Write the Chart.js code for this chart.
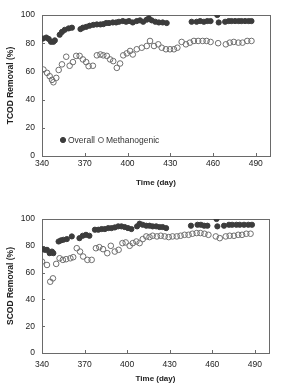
<!DOCTYPE html>
<html>
<head>
<meta charset="utf-8">
<script src="https://cdn.jsdelivr.net/npm/chart.js@4/dist/chart.umd.min.js"></script>
<style>
html, body { margin: 0; padding: 0; background: #fff; overflow: hidden; width: 287px; height: 383px; }
canvas { position: absolute; left: 0; }
#tcod { top: 0; }
#scod { top: 190px; }
</style>
</head>
<body>
<canvas id="tcod" width="287" height="190" style="width:287px;height:190px"></canvas>
<canvas id="scod" width="287" height="200" style="width:287px;height:200px"></canvas>
<script>
// axis ticks
var xTicks = [340, 370, 400, 430, 460, 490];
var yTicks = [0, 20, 40, 60, 80, 100];

// TCOD removal, overall
var tcodOverallDays = [340.7, 343, 344.7, 346.3, 348, 349, 352.4, 354, 356, 358.7, 361, 367, 368.7, 371, 373.4, 376, 378.5, 381, 383, 385, 387, 389.7, 392, 394, 396.7, 399, 401, 403.7, 406.5, 408.8, 411, 413.5, 415, 417, 419.5, 422, 424.7, 427.5, 445, 448.5, 451, 453.6, 456, 458.3, 463, 464, 468.5, 471, 473, 475.5, 478, 480, 482.5, 485, 487];
var tcodOverallVals = [83.3, 84, 83, 81, 81, 82, 86, 88, 89.5, 90.5, 91, 90, 91, 91.6, 92.4, 93, 93.3, 93.3, 93.5, 94.3, 94.3, 94.7, 94.7, 95.2, 95.7, 95.2, 95.7, 94.7, 95.7, 96.2, 95.2, 96.7, 97.6, 96.2, 95.2, 94.7, 94.7, 94.3, 95.2, 95.2, 95.7, 95.2, 95.7, 95.7, 100, 94.7, 95.2, 95.7, 95.7, 95.7, 95.7, 95.7, 95.7, 95.7, 95.7];

// TCOD removal, methanogenic
var tcodMethDays = [341, 343.5, 345.4, 347, 348, 350, 351.7, 354, 357, 359.4, 361.7, 364, 366.4, 368.7, 371, 372.7, 375.7, 378.5, 381, 383, 385.5, 387.8, 390, 392.5, 394.8, 397, 399.5, 401.8, 403.7, 406.5, 410, 413.5, 415.8, 418.6, 421.6, 424, 427, 429.8, 432.6, 435, 438, 441, 443.8, 446.6, 449.6, 452.7, 455.5, 458.3, 463.6, 469, 471.8, 474.6, 477.8, 480.7, 484, 487];
var tcodMethVals = [61.3, 59, 56.6, 54, 52.3, 55.4, 61, 65, 70.4, 64, 66.6, 71, 71, 68.5, 66.6, 63.7, 64, 71.4, 72, 71.4, 71, 68.5, 67.3, 62.5, 65.6, 71.4, 72.8, 74.5, 72, 75.7, 76.8, 78, 81.6, 78, 79.2, 76.8, 75.7, 75.7, 75.7, 76.8, 80.9, 79.2, 80.4, 81.6, 81.6, 81.6, 81.6, 80.9, 80, 79.2, 80.4, 80.9, 80.4, 80.4, 81.6, 81.6];

// SCOD removal, overall
var scodOverallDays = [340, 342, 343.5, 345.4, 347, 348, 351.7, 353.3, 355, 357.5, 361, 366.4, 368.7, 371, 373.4, 377.3, 379.7, 382, 384.3, 386.7, 389, 391.3, 393.7, 396, 398.3, 400.6, 403, 407, 408.8, 411, 413.5, 415.8, 418, 420.5, 422.8, 425, 427.5, 445, 449.6, 452, 454.3, 456.6, 463, 463.6, 468.3, 471.8, 474, 477, 479.4, 482.4, 485.4, 488];
var scodOverallVals = [77.5, 77, 77, 74.5, 75.7, 74.5, 83.2, 84, 84.5, 85, 87, 85.7, 87.5, 88.2, 87.5, 92, 92, 92.5, 92.5, 93.2, 93.2, 93.7, 94.5, 94.5, 94, 93.2, 92.5, 94.5, 96.5, 95.7, 95, 95, 94.5, 94.5, 94, 94, 93.2, 95, 95.7, 95.7, 95, 95, 100, 94.5, 95, 95.7, 95.7, 95.7, 95.7, 95.7, 95.7, 95.7];

// SCOD removal, methanogenic
var scodMethDays = [340, 343.5, 345.8, 347.7, 350, 352.4, 354.7, 357, 360, 362, 364.5, 366.8, 369, 372, 375, 378, 380.4, 383, 386, 388.5, 391.3, 394, 396.7, 399, 401.8, 404, 406.5, 408.8, 411, 413.5, 415.8, 418, 421, 423.7, 426.5, 429.3, 432, 435, 437.7, 440.5, 443.3, 446, 449, 451.7, 454.5, 457.3, 462.5, 465.3, 469.5, 472.3, 475.3, 478.3, 481, 484, 487];
var scodMethVals = [68.2, 65.7, 53.2, 55.7, 66.5, 70.7, 69.5, 70, 70.7, 71.5, 78.2, 75.7, 72, 69.5, 69.5, 78.2, 79, 77.5, 74.5, 80, 75.7, 77, 82, 82.5, 80, 82, 83.2, 82, 85, 87, 86.5, 87.5, 87, 87.5, 87, 86.5, 87, 87, 87.5, 88.2, 88.2, 89, 89.5, 89.5, 89, 88.2, 87, 85.7, 87, 87.5, 87.5, 88.2, 88.2, 89, 89];

function pts(days, vals) {
  return days.map(function (d, i) { return { x: d, y: vals[i] }; });
}

Chart.defaults.font.family = "'Liberation Sans', Arial, sans-serif";
Chart.defaults.font.size = 8;
Chart.defaults.color = '#222';

// box round the plot area plus small inward tick marks
var framePlugin = {
  id: 'frame',
  beforeDatasetsDraw: function (chart) {
    var a = chart.chartArea, ctx = chart.ctx;
    var xs = chart.scales.x, ys = chart.scales.y;
    ctx.save();
    ctx.strokeStyle = '#6a6a6a';
    ctx.lineWidth = 1;
    ctx.strokeRect(Math.round(a.left) + 0.5, Math.round(a.top) + 0.5, Math.round(a.right - a.left), Math.round(a.bottom - a.top));
    ctx.beginPath();
    ys.ticks.forEach(function (t) {
      var p = Math.round(ys.getPixelForValue(t.value)) + 0.5;
      ctx.moveTo(a.left, p); ctx.lineTo(a.left + 3, p);
    });
    xs.ticks.forEach(function (t) {
      var p = Math.round(xs.getPixelForValue(t.value)) + 0.5;
      ctx.moveTo(p, a.bottom); ctx.lineTo(p, a.bottom - 3);
    });
    ctx.stroke();
    ctx.restore();
  }
};

// legend drawn inside the plot area
var innerLegend = {
  id: 'innerLegend',
  afterDatasetsDraw: function (chart, args, opts) {
    if (!opts.show) return;
    var ctx = chart.ctx, a = chart.chartArea;
    var x = a.left + opts.x, y = a.top + opts.y;
    ctx.save();
    ctx.font = "8.5px 'Liberation Sans', Arial, sans-serif";
    ctx.textBaseline = 'middle';
    chart.data.datasets.forEach(function (ds) {
      ctx.fillStyle = ds.backgroundColor;
      ctx.strokeStyle = ds.borderColor;
      ctx.lineWidth = 1;
      Chart.helpers.drawPoint(ctx, { pointStyle: 'circle', radius: 2.6, borderWidth: 1 }, x, y);
      ctx.fillStyle = '#333';
      ctx.fillText(ds.label, x + 5, y + 0.5);
      x += 5 + ctx.measureText(ds.label).width + 6;
    });
    ctx.restore();
  }
};

function makeChart(id, yTitle, overall, meth, cfg) {
  return new Chart(document.getElementById(id), {
    type: 'scatter',
    data: {
      datasets: [
        { label: 'Overall', data: overall, backgroundColor: '#3c3c3c', borderColor: '#3c3c3c', pointRadius: 2.6, borderWidth: 1 },
        { label: 'Methanogenic', data: meth, backgroundColor: 'rgba(255,255,255,0)', borderColor: '#6e6e6e', pointRadius: 2.8, borderWidth: 1 }
      ]
    },
    options: {
      responsive: false,
      animation: false,
      layout: { padding: { top: cfg.top, right: cfg.right, bottom: 0, left: 0 } },
      plugins: {
        legend: { display: false },
        tooltip: { enabled: false },
        innerLegend: { show: cfg.legend, x: 21, y: 125 }
      },
      scales: {
        x: {
          type: 'linear', min: 340, max: 500,
          afterBuildTicks: function (s) { s.ticks = xTicks.map(function (v) { return { value: v }; }); },
          afterFit: function (s) { s.height = cfg.xHeight; },
          grid: { display: false, drawTicks: false },
          border: { display: false },
          ticks: { padding: cfg.xPad, maxRotation: 0, font: { size: 8.5 } },
          title: { display: true, text: 'Time (day)', font: { size: 8, weight: 'bold' }, padding: { top: 0, bottom: cfg.titlePad } }
        },
        y: {
          min: 0, max: 100,
          afterBuildTicks: function (s) { s.ticks = yTicks.map(function (v) { return { value: v }; }); },
          afterFit: function (s) { s.width = 42; },
          grid: { display: false, drawTicks: true, tickLength: 4 },
          border: { display: false },
          ticks: { padding: 3, font: { size: 8.5 } },
          title: { display: true, text: yTitle, font: { size: 8.5, weight: 'bold' }, padding: { top: 6, bottom: 0 } }
        }
      }
    },
    plugins: [framePlugin, innerLegend]
  });
}

makeChart('tcod', 'TCOD Removal (%)', pts(tcodOverallDays, tcodOverallVals), pts(tcodMethDays, tcodMethVals),
  { top: 15, right: 17, xHeight: 34, xPad: 3, titlePad: 2, legend: true });
makeChart('scod', 'SCOD Removal (%)', pts(scodOverallDays, scodOverallVals), pts(scodMethDays, scodMethVals),
  { top: 29, right: 18, xHeight: 37, xPad: 7, titlePad: 6, legend: false });
</script>
</body>
</html>
